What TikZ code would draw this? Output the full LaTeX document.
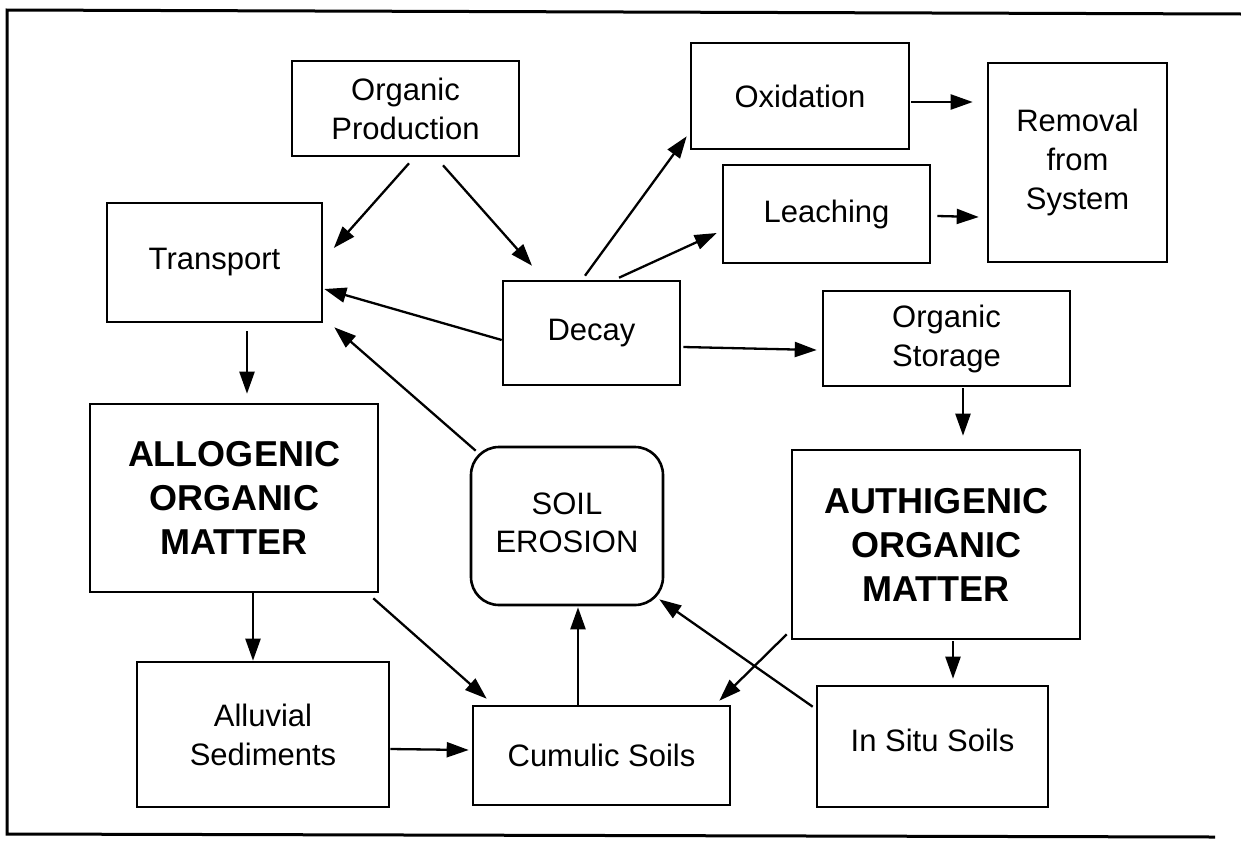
\documentclass[tikz,border=0pt]{standalone}
\usepackage{fontspec}
\setmainfont{Liberation Sans}
\usetikzlibrary{arrows.meta}
\begin{document}
\begin{tikzpicture}[x=1pt,y=-1pt,
  box/.style={draw, line width=2.6pt, inner sep=0pt, align=center,
    font=\fontsize{31}{39}\selectfont},
  bigbox/.style={box, font=\fontsize{36}{44}\selectfont\bfseries},
  arr/.style={line width=2.3pt, -{Triangle[length=22pt,width=15pt]}},
  frame/.style={line width=3pt}]
\useasboundingbox (0,0) rectangle (1241,841);
% outer frame (no right side)
\coordinate (ftl) at (7,10);
\coordinate (ftr) at (1241,14);
\coordinate (fbl) at (7,834);
\coordinate (fbr) at (1215,837);
\draw[frame] (ftr) -- (ftl) -- (fbl) -- (fbr);
% boxes
\node[box, minimum width=227pt, minimum height=95pt] (op) at (405.5,108.5) {Organic\\Production};
\node[box, minimum width=215pt, minimum height=119pt] (tr) at (214.5,262.5) {Transport};
\node[box, minimum width=177pt, minimum height=104pt] (dec) at (591.5,333) {Decay};
\node[box, minimum width=218pt, minimum height=106pt] (ox) at (800,96) {Oxidation};
\node[box, minimum width=179pt, minimum height=199pt] (rem) at (1077.5,162.5) {Removal\\from\\System};
\node[box, minimum width=207pt, minimum height=98pt] (lea) at (826.5,214) {Leaching};
\node[box, minimum width=247pt, minimum height=95pt] (sto) at (946.5,338.5) {Organic\\Storage};
\node[bigbox, minimum width=288pt, minimum height=188pt] (allo) at (234,498) {ALLOGENIC\\ORGANIC\\MATTER};
\node[box, rounded corners=28pt, minimum width=192pt, minimum height=158pt] (se) at (567,526) {\raisebox{4pt}{\begin{tabular}{@{}c@{}}SOIL\\[-1pt]EROSION\end{tabular}}};
\node[bigbox, minimum width=288pt, minimum height=189pt] (auth) at (936,544.5) {AUTHIGENIC\\ORGANIC\\MATTER};
\node[box, minimum width=252pt, minimum height=145pt] (all) at (263,734.5) {Alluvial\\Sediments};
\node[box, minimum width=257pt, minimum height=99pt] (cum) at (601.5,755.5) {Cumulic Soils};
\node[box, minimum width=231pt, minimum height=121pt] (ins) at (932.5,746.5) {\raisebox{13pt}{In Situ Soils}};
% connectors
\draw[arr] ([shift={(3.5,6)}]op.south) -- ([shift={(10.5,-14.5)}]tr.east);
\draw[arr] ([shift={(37.5,8)}]op.south) -- ([shift={(-59.5,-14)}]dec.north);
\draw[arr] ([shift={(0,7)}]dec.west) -- ([shift={(1,26.5)}]tr.east);
\draw[arr] ([shift={(6,5)}]se.north west) -- ([shift={(11,4)}]tr.south east);
\draw[arr] ([shift={(32.5,8)}]tr.south) -- ([shift={(13,-9)}]allo.north);
\draw[arr] ([shift={(-6.5,-4)}]dec.north) -- ([shift={(-3,-14)}]ox.south west);
\draw[arr] ([shift={(27.5,-2)}]dec.north) -- ([shift={(-5,19)}]lea.west);
\draw[arr] ([shift={(1,6)}]ox.east) -- ([shift={(-14,-60.5)}]rem.west);
\draw[arr] ([shift={(6,2)}]lea.east) -- ([shift={(-8,54.5)}]rem.west);
\draw[arr] ([shift={(2,14)}]dec.east) -- ([shift={(-5,11.5)}]sto.west);
\draw[arr] ([shift={(16.5,1)}]sto.south) -- ([shift={(27,-13)}]auth.north);
\draw[arr] ([shift={(17,1)}]auth.south) -- ([shift={(20.5,-6)}]ins.north);
\draw[arr] ([shift={(-4,-6)}]auth.south west) -- ([shift={(-12,-4)}]cum.north east);
\draw[arr] ([shift={(-3,22)}]ins.north west) -- ([shift={(-5,-7)}]se.south east);
\draw[arr] ([shift={(19,0)}]allo.south) -- ([shift={(-10,0)}]all.north);
\draw[arr] ([shift={(-6,5)}]allo.south east) -- ([shift={(15,-6)}]cum.north west);
\draw[arr] ([shift={(0,14.5)}]all.east) -- ([shift={(-3,-5.5)}]cum.west);
\draw[arr] ([shift={(-23.5,0)}]cum.north) -- ([shift={(11,1)}]se.south);
\end{tikzpicture}
\end{document}
